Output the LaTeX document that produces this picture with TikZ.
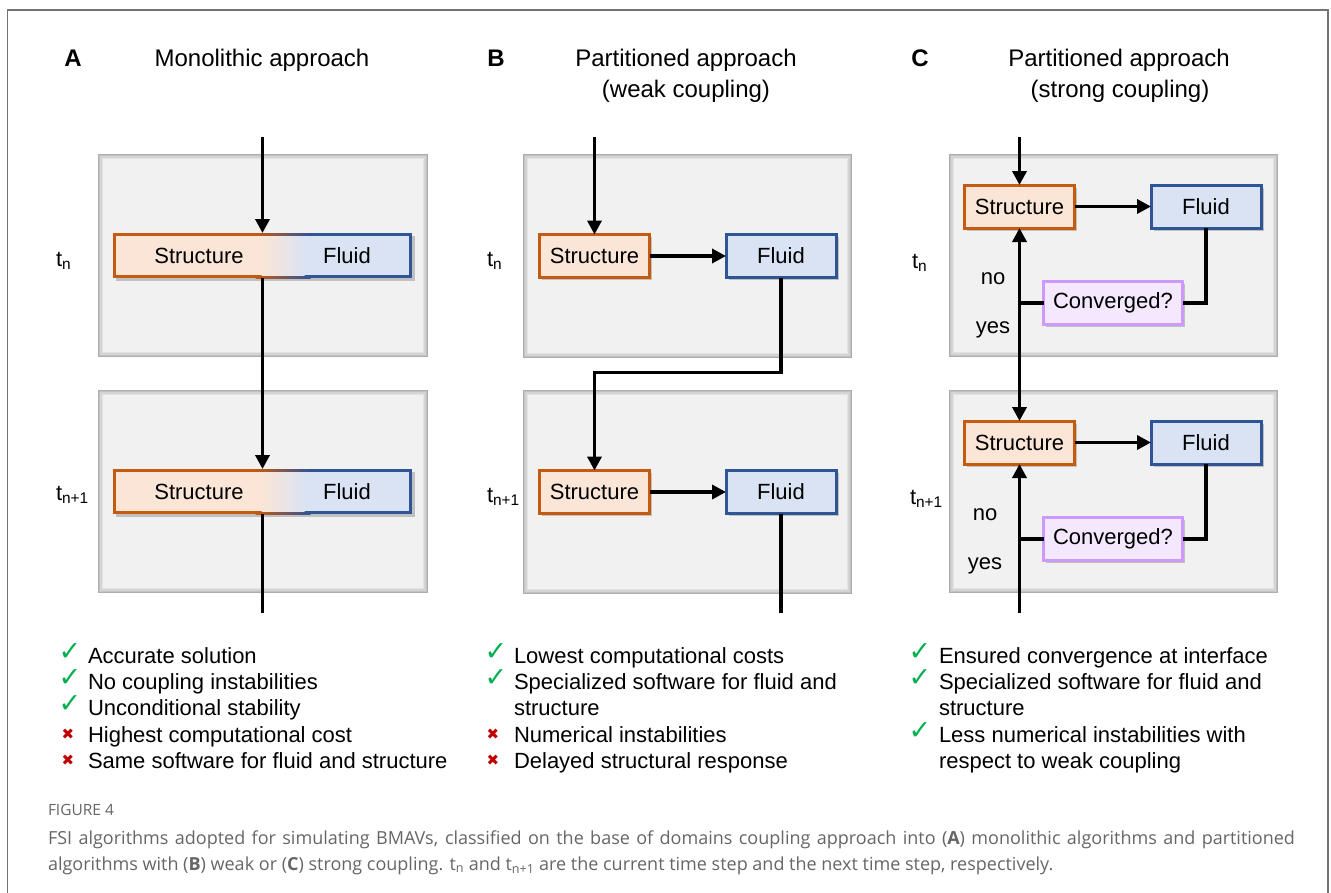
\documentclass[tikz,border=0pt]{standalone}
\usepackage{fontspec}
\setmainfont{Liberation Sans}
\newfontfamily\capfont{Open Sans}
\newfontfamily\symfont{DejaVu Sans}
\usetikzlibrary{arrows.meta,shadows,calc}

\definecolor{orB}{HTML}{C55A11}
\definecolor{orF}{HTML}{FBE5D6}
\definecolor{blB}{HTML}{2F5597}
\definecolor{blF}{HTML}{DAE3F3}
\definecolor{puB}{HTML}{CC99FF}
\definecolor{puF}{HTML}{F3E8FD}
\definecolor{gbF}{HTML}{F1F1F1}
\definecolor{chk}{HTML}{00B050}
\definecolor{crs}{HTML}{C00000}
\definecolor{capc}{HTML}{666666}

\newcommand\panelbg[4]{%
  \fill[black!32] (#1,#2) rectangle (#3,#4);
  \fill[black!24] ($(#1,#2)+(1.2,1.2)$) rectangle ($(#3,#4)-(1.2,1.2)$);
  \fill[black!17] ($(#1,#2)+(2.4,2.4)$) rectangle ($(#3,#4)-(2.4,2.4)$);
  \fill[black!11] ($(#1,#2)+(3.6,3.6)$) rectangle ($(#3,#4)-(3.6,3.6)$);
  \fill[gbF] ($(#1,#2)+(5,5)$) rectangle ($(#3,#4)-(5,5)$);
}

\begin{document}
\begin{tikzpicture}[x=1pt,y=-1pt,
  every node/.style={inner sep=0pt, outer sep=0pt},
  txt/.style={font=\fontsize{22}{26}\selectfont},
  ttl/.style={font=\fontsize{24}{28}\selectfont},
  boxsh/.style={drop shadow={shadow xshift=2.5pt, shadow yshift=-2.5pt, opacity=0.35, fill=black!60}},
  sbox/.style={txt, draw=orB, fill=orF, line width=3pt, minimum width=110pt, minimum height=43pt, boxsh},
  fbox/.style={txt, draw=blB, fill=blF, line width=3pt, minimum width=110pt, minimum height=43pt, boxsh},
  cbox/.style={txt, draw=puB, fill=puF, line width=3pt, minimum width=139pt, minimum height=43pt, boxsh},
  arr/.style={line width=3.6pt, -{Triangle[length=14pt,width=14pt]}},
  ln/.style={line width=3.6pt},
  chkm/.style={font=\symfont\fontsize{27}{28}\selectfont, text=chk},
  crsm/.style={font=\symfont\fontsize{15}{16}\selectfont, text=crs},
  item/.style={txt, anchor=base west},
  tlab/.style={txt, anchor=base west},
]
\useasboundingbox (0,0) rectangle (1331,892);
\fill[white] (0,0) rectangle (1331,892);
\draw[black!55, line width=1.2pt] (7.5,10) rectangle (1328,905);

% ---------- titles ----------
\node[ttl, font=\fontsize{24}{28}\selectfont\bfseries, anchor=base] (lA) at (73,66) {A};
\node[ttl, anchor=base] (tA) at (262,66) {Monolithic approach};
\node[ttl, font=\fontsize{24}{28}\selectfont\bfseries, anchor=base] (lB) at (496,66) {B};
\node[ttl, anchor=base] (tB1) at (686,66) {Partitioned approach};
\node[ttl, anchor=base] (tB2) at (686,97) {(weak coupling)};
\node[ttl, font=\fontsize{24}{28}\selectfont\bfseries, anchor=base] (lC) at (920,66) {C};
\node[ttl, anchor=base] (tC1) at (1119,66) {Partitioned approach};
\node[ttl, anchor=base] (tC2) at (1120,97) {(strong coupling)};

% ---------- panel backgrounds ----------
\panelbg{98}{154}{428}{357}
\panelbg{98}{390}{428}{593}
\panelbg{523}{154}{852}{358}
\panelbg{523}{390}{852}{594}
\panelbg{949}{154}{1278}{357}
\panelbg{949}{390}{1278}{593}

% ---------- time labels ----------
\node[tlab] (tA1) at (56,266) {t\textsubscript{n}};
\node[tlab] (tA2) at (56,500) {t\textsubscript{n+1}};
\node[tlab] (tB1l) at (487,266) {t\textsubscript{n}};
\node[tlab] (tB2l) at (487,502) {t\textsubscript{n+1}};
\node[tlab] (tC1l) at (912,268) {t\textsubscript{n}};
\node[tlab] (tC2l) at (910,504) {t\textsubscript{n+1}};

% ---------- panel A (monolithic) ----------
\node[minimum width=299pt, minimum height=45pt] (a1) at (262.5,255.5) {};
\node[minimum width=299pt, minimum height=45pt] (a2) at (262.5,491.5) {};
\foreach \yy in {0,236}{
  \fill[black!60, opacity=.35] (115.5,235.5+\yy) rectangle (414.5,280.5+\yy);
  \fill[orB] (113,233+\yy) rectangle (256,278+\yy);
  \shade[left color=orB, right color=blB] (255.5,233+\yy) rectangle (310.5,278+\yy);
  \fill[blB] (310,233+\yy) rectangle (412,278+\yy);
  \fill[orF] (116,236+\yy) rectangle (262,275+\yy);
  \shade[left color=orF, right color=blF] (261.5,236+\yy) rectangle (304.5,275+\yy);
  \fill[blF] (304,236+\yy) rectangle (409,275+\yy);
}
\node[txt] (a1s) at (199,256) {Structure};
\node[txt] (a1f) at (347,256) {Fluid};
\node[txt] (a2s) at (199,492) {Structure};
\node[txt] (a2f) at (347,492) {Fluid};
\coordinate (a0) at (262.5,137);
\coordinate (aend) at (262.5,613);
\draw[arr] (a0) -- (a1.north);
\draw[arr] (a1.south) -- (a2.north);
\draw[ln] (a2.south) -- (aend);

% ---------- panel B (weak coupling) ----------
\node[sbox] (b1s) at (594.5,256) {Structure};
\node[fbox] (b1f) at (781,256) {Fluid};
\node[sbox] (b2s) at (594.5,492) {Structure};
\node[fbox] (b2f) at (781,492) {Fluid};
\coordinate (b0) at (594.5,137);
\coordinate (bend) at (781,613);
\draw[arr] (b0) -- (b1s.north);
\draw[arr] (b1s.east) -- (b1f.west);
\draw[arr] (b1f.south) -- ++(0,95) -| (b2s.north);
\draw[arr] (b2s.east) -- (b2f.west);
\draw[ln] (b2f.south) -- (bend);

% ---------- panel C (strong coupling) ----------
\node[sbox] (c1s) at (1019.5,206.5) {Structure};
\node[fbox] (c1f) at (1206,206.5) {Fluid};
\node[cbox] (c1c) at (1113,303) {Converged?};
\node[sbox] (c2s) at (1019.5,442.5) {Structure};
\node[fbox] (c2f) at (1206,442.5) {Fluid};
\node[cbox] (c2c) at (1113,539) {Converged?};
\coordinate (c0) at (1019.5,137);
\coordinate (c1j) at (1019.5,303);
\coordinate (c2j) at (1019.5,539);
\coordinate (cend) at (1019.5,613);
\draw[arr] (c0) -- (c1s.north);
\draw[arr] (c1s.east) -- (c1f.west);
\draw[ln] (c1f.south) |- (c1c.east);
\draw[ln] (c1c.west) -- (c1j);
\draw[arr] (c1j) -- (c1s.south);
\draw[arr] (c1j) -- (c2s.north);
\draw[arr] (c2s.east) -- (c2f.west);
\draw[ln] (c2f.south) |- (c2c.east);
\draw[ln] (c2c.west) -- (c2j);
\draw[arr] (cend) -- (c2s.south);
\node[txt] (no1) at (993,279) {no};
\node[txt] (yes1) at (993,330) {yes};
\node[txt] (no2) at (985,515) {no};
\node[txt] (yes2) at (985,566) {yes};

% ---------- lists ----------
\node[chkm] (ka1) at (70,652) {✓};
\node[chkm] (ka2) at (70,678) {✓};
\node[chkm] (ka3) at (70,704) {✓};
\node[crsm] (ka4) at (68,734) {✖};
\node[crsm] (ka5) at (68,760) {✖};
\node[item] (ia1) at (88,663) {Accurate solution};
\node[item] (ia2) at (88,689) {No coupling instabilities};
\node[item] (ia3) at (88,715) {Unconditional stability};
\node[item] (ia4) at (88,742) {Highest computational cost};
\node[item] (ia5) at (88,768) {Same software for fluid and structure};

\node[chkm] (kb1) at (496,652) {✓};
\node[chkm] (kb2) at (496,678) {✓};
\node[crsm] (kb4) at (493,734) {✖};
\node[crsm] (kb5) at (493,760) {✖};
\node[item] (ib1) at (514,663) {Lowest computational costs};
\node[item] (ib2) at (514,689) {Specialized software for fluid and};
\node[item] (ib3) at (514,715) {structure};
\node[item] (ib4) at (514,742) {Numerical instabilities};
\node[item] (ib5) at (514,768) {Delayed structural response};

\node[chkm] (kc1) at (920,652) {✓};
\node[chkm] (kc2) at (920,678) {✓};
\node[chkm] (kc4) at (920,731) {✓};
\node[item] (ic1) at (939,663) {Ensured convergence at interface};
\node[item] (ic2) at (939,689) {Specialized software for fluid and};
\node[item] (ic3) at (939,715) {structure};
\node[item] (ic4) at (939,742) {Less numerical instabilities with};
\node[item] (ic5) at (939,768) {respect to weak coupling};

% ---------- caption ----------
\node[anchor=base west, text=capc, font=\capfont\fontsize{15.5}{17}\selectfont] (fig) at (48,815) {FIGURE 4};
\node[anchor=base west, text=capc, font=\capfont\fontsize{18}{21}\selectfont] (cap1) at (48,844)
  {\makebox[1247pt][s]{FSI algorithms adopted for simulating BMAVs, classified on the base of domains coupling approach into (\textbf{A}) monolithic algorithms and partitioned}};
\node[anchor=base west, text=capc, font=\capfont\fontsize{18}{21}\selectfont] (cap2) at (48,870)
  {algorithms with (\textbf{B}) weak or (\textbf{C}) strong coupling. t\textsubscript{n} and t\textsubscript{n+1} are the current time step and the next time step, respectively.};
\end{tikzpicture}
\end{document}
